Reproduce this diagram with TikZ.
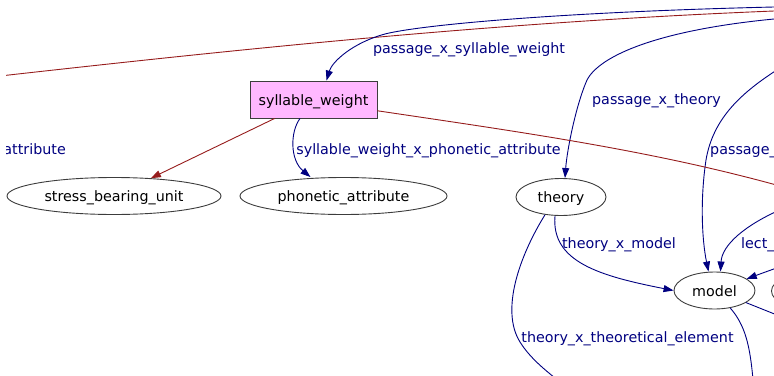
\documentclass[tikz,border=0pt]{standalone}
\usepackage{fontspec}
\setmainfont{DejaVu Sans}
\usepackage{xcolor}
\usetikzlibrary{shapes.geometric,arrows.meta}
\definecolor{gvnavy}{RGB}{0,0,128}
\definecolor{gvred}{RGB}{150,28,28}
\definecolor{gvpink}{RGB}{255,184,255}
\definecolor{gvgray}{RGB}{60,60,60}

\begin{document}
\begin{tikzpicture}[
    x=1pt, y=-1pt,
    font=\fontsize{14.3}{17}\selectfont,
    concept/.style={
        ellipse, draw=gvgray, line width=0.9pt,
        minimum height=37pt, inner sep=0pt,
        text height=15pt, text depth=3.5pt
    },
    classbox/.style={
        rectangle, draw=gvgray, line width=0.9pt, fill=gvpink,
        minimum width=127pt, minimum height=37pt, inner sep=0pt,
        text height=15pt, text depth=3.5pt
    },
    navyedge/.style={-{Triangle[length=10pt,width=7pt]}, line width=0.9pt, color=gvnavy},
    rededge/.style={-{Triangle[length=10pt,width=7pt]}, line width=0.9pt, color=gvred},
    plainedge/.style={line width=0.9pt},
    edgelabel/.style={text=gvnavy, inner sep=0pt, text height=15pt, text depth=3.5pt}
]
\useasboundingbox (0,0) rectangle (774,375);
\clip (6,0) rectangle (774,375);

\node[classbox] (sylweight) at (313.5,99.5) {syllable\_weight};
\node[concept, minimum width=214pt] (stressunit) at (114,196) {stress\_bearing\_unit};
\node[concept, minimum width=207pt] (phonattr)   at (343.5,196) {phonetic\_attribute};
\node[concept, minimum width=90pt]  (theory)     at (561,197) {theory};
\node[concept, minimum width=81pt]  (model)      at (714.5,290.5) {model};
\node[concept, minimum width=81pt]  (nextnode)   at (812,291) {};

\coordinate (farleft)   at (0,76);
\coordinate (farright)  at (774,11);
\coordinate (passageA)  at (774,7);
\coordinate (passageB)  at (774,19);
\coordinate (passageC)  at (780,68);
\coordinate (sylright)  at (780,186);
\coordinate (lectin)    at (782,209);
\coordinate (modelin)   at (782,266);
\coordinate (modelout)  at (782,317);
\coordinate (modeldown) at (753,380);
\coordinate (theoelem)  at (560,382);

\draw[plainedge, color=gvred] (farleft) .. controls (250,48) and (500,22) .. (farright);
\draw[navyedge] (passageA) .. controls (560,12) and (420,25) .. (385,34)
    .. controls (352,43) and (332,62) .. ([xshift=13pt]sylweight.north);
\draw[navyedge] (passageB) .. controls (660,30) and (600,55) .. (587,80)
    .. controls (576,105) and (567,150) .. ([xshift=4pt]theory.north);
\draw[navyedge] (passageC) .. controls (742,92) and (713,118) .. (706,160)
    .. controls (700,200) and (702,240) .. ([xshift=-6pt]model.north);
\draw[plainedge, color=gvred] (sylweight.-10) .. controls (520,132) and (650,150) .. (sylright);
\draw[rededge]  (sylweight.-154) -- (stressunit);
\draw[navyedge] ([xshift=-13.5pt]sylweight.south) .. controls (290,132) and (290,160) .. ([xshift=-33pt]phonattr.north);
\draw[navyedge] ([xshift=-6pt]theory.south) .. controls (551,262) and (600,276) .. (model.west);
\draw[plainedge, color=gvnavy] (theory.-132) .. controls (520,255) and (500,310) .. (520,342)
    .. controls (530,358) and (545,370) .. (theoelem);
\draw[navyedge] (lectin) .. controls (745,225) and (722,245) .. ([xshift=6pt]model.north);
\draw[navyedge] (modelin) -- (model);
\draw[plainedge, color=gvnavy] (model.-48) .. controls (745,325) and (750,345) .. (modeldown);
\draw[plainedge, color=gvnavy] (model.-21) -- (modelout);

\node[edgelabel] (lblpsw)   at (469,48)  {passage\_x\_syllable\_weight};
\node[edgelabel, anchor=east] (lblattr) at (66,149) {attribute};
\node[edgelabel] (lblswpa)  at (428.5,149) {syllable\_weight\_x\_phonetic\_attribute};
\node[edgelabel] (lblpt)    at (656.5,99) {passage\_x\_theory};
\node[edgelabel, anchor=west] (lblpm) at (710,149) {passage\_};
\node[edgelabel] (lbltm)    at (619,243) {theory\_x\_model};
\node[edgelabel, anchor=west] (lbllect) at (741,243) {lect\_};
\node[edgelabel] (lblte)    at (627.5,337) {theory\_x\_theoretical\_element};
\end{tikzpicture}
\end{document}
